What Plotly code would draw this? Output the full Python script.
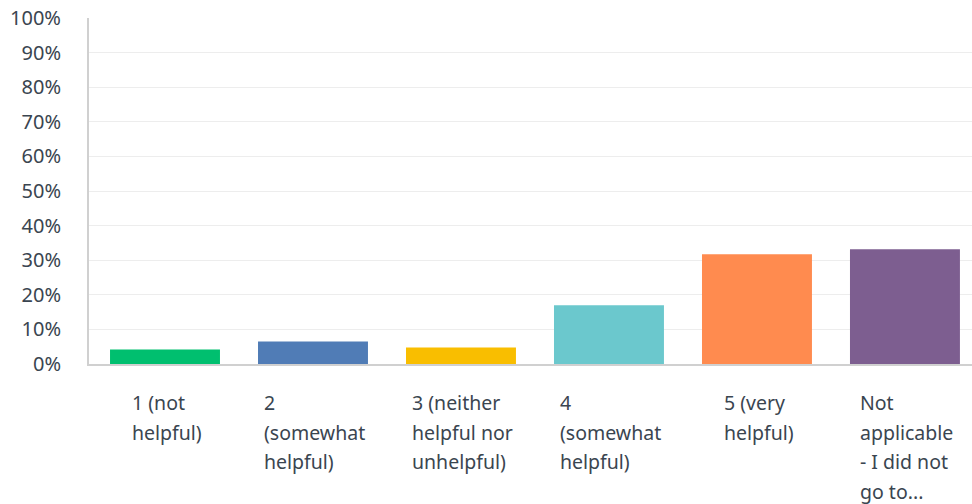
import plotly.graph_objects as go

# Survey answer choices and share of respondents (%)
categories = ["1 (not helpful)", "2 (somewhat helpful)", "3 (neither helpful nor unhelpful)",
              "4 (somewhat helpful)", "5 (very helpful)", "Not applicable - I did not go to..."]
label_lines = [
    ["1 (not", "helpful)"],
    ["2", "(somewhat", "helpful)"],
    ["3 (neither", "helpful nor", "unhelpful)"],
    ["4", "(somewhat", "helpful)"],
    ["5 (very", "helpful)"],
    ["Not", "applicable", "- I did not", "go to..."],
]
values = [4.2, 6.5, 4.8, 17.0, 31.7, 33.2]
colors = ["#00BF6F", "#507CB6", "#F9BE00", "#6BC8CD", "#FF8B4F", "#7D5E90"]
y_ticks = list(range(0, 101, 10))

FONT = "Noto Sans"
TEXT_COLOR = "#3a4550"

x_idx = list(range(len(categories)))

fig = go.Figure(go.Bar(
    x=x_idx,
    y=values,
    marker=dict(color=colors, line=dict(width=0)),
    hovertext=categories,
    width=0.743,
))

# Category labels: left-aligned lines in a centred block, with wider line spacing
annotations = []
for i, lines in enumerate(label_lines):
    txt = "<br>".join(f"<span style='font-size:19.5px'>{ln}</span>" for ln in lines)
    annotations.append(dict(
        x=i, y=0, xref="x", yref="y",
        text=txt, showarrow=False,
        xanchor="center", yanchor="top", align="left",
        xshift=2, yshift=-23,
        font=dict(family=FONT, size=22.7, color=TEXT_COLOR),
    ))

fig.update_layout(
    width=972, height=504,
    margin=dict(l=89, r=0, t=18, b=140),
    paper_bgcolor="white", plot_bgcolor="white",
    showlegend=False,
    bargap=0.257,
    annotations=annotations,
    xaxis=dict(
        range=[-0.5135, 5.453],
        showticklabels=False, showgrid=False, zeroline=False,
        showline=True, linecolor="#d0d0d0", linewidth=2,
        fixedrange=True,
    ),
    yaxis=dict(
        range=[0, 100],
        tickvals=y_ticks,
        ticktext=[f"{v}%" for v in y_ticks],
        tickfont=dict(family=FONT, size=20, color=TEXT_COLOR),
        showgrid=True, gridcolor="#ededed", gridwidth=1,
        zeroline=False,
        showline=True, linecolor="#d0d0d0", linewidth=2,
        ticks="outside", ticklen=22, tickcolor="rgba(0,0,0,0)",
        fixedrange=True,
    ),
)

fig.write_html("out.html")
